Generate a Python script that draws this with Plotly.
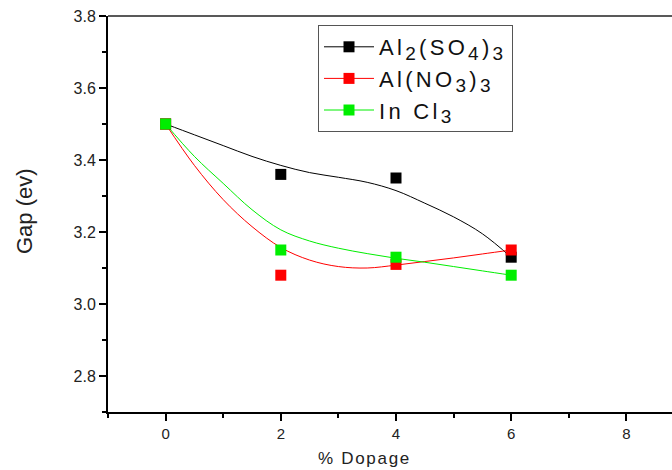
import plotly.graph_objects as go

# Measured data points
dopage = [0, 2, 4, 6]
gap_al2so4 = [3.50, 3.36, 3.35, 3.13]
gap_alno3 = [3.50, 3.08, 3.11, 3.15]
gap_incl3 = [3.50, 3.15, 3.13, 3.08]

# Smoothed fit curves
curve_x = [0, 0.5, 1, 1.5, 2, 2.5, 3, 3.5, 4, 4.5, 5, 5.5, 6]
curve_al2so4 = [3.50, 3.47, 3.44, 3.41, 3.385, 3.365, 3.352, 3.338, 3.315, 3.28, 3.242, 3.195, 3.13]
curve_alno3 = [3.50, 3.385, 3.29, 3.215, 3.157, 3.122, 3.104, 3.100, 3.108, 3.118, 3.128, 3.139, 3.15]
curve_incl3 = [3.50, 3.41, 3.335, 3.262, 3.206, 3.175, 3.155, 3.14, 3.127, 3.116, 3.104, 3.092, 3.08]

x_ticks = [0, 2, 4, 6, 8]
y_ticks = [2.8, 3.0, 3.2, 3.4, 3.6, 3.8]
y_ticktext = ["2.8", "3.0", "3.2", "3.4", "3.6", "3.8"]


def sub(s):
    return "<sub><span style='font-size:19px'>" + s + "</span></sub>"


def spaced(s):
    return "<span style='letter-spacing:3.3px'>" + s + "</span>"


names = [spaced("Al" + sub("2") + "(SO" + sub("4") + ")" + sub("3")),
         spaced("Al(NO" + sub("3") + ")" + sub("3")),
         spaced("In Cl" + sub("3"))]
colors = ["#000000", "#ff0000", "#00ee00"]

fig = go.Figure()
for cy, c in zip([curve_al2so4, curve_alno3, curve_incl3], colors):
    fig.add_trace(go.Scatter(x=curve_x, y=cy, mode="lines",
                             line=dict(color=c, width=1, shape="spline"),
                             showlegend=False, hoverinfo="skip"))
for py, c in zip([gap_al2so4, gap_alno3, gap_incl3], colors):
    fig.add_trace(go.Scatter(x=dopage, y=py, mode="markers",
                             marker=dict(symbol="square", size=11, color=c),
                             showlegend=False))
for n, c in zip(names, colors):
    fig.add_trace(go.Scatter(x=[None], y=[None], mode="lines+markers", name=n,
                             line=dict(color=c, width=1),
                             marker=dict(symbol="square", size=11, color=c)))

L, T, B = 108, 16, 58
PW = 672 - L
PH = 470 - T - B


def px_x(p):
    return (p - L) / PW


def px_y(p):
    return (470 - B - p) / PH


fig.update_layout(
    width=672, height=470,
    margin=dict(l=L, r=0, t=T, b=B),
    plot_bgcolor="white", paper_bgcolor="white",
    font=dict(family="Liberation Sans, Arial", color="#222"),
    legend=dict(x=px_x(318), y=px_y(25), xanchor="left", yanchor="top",
                bgcolor="white", bordercolor="#555", borderwidth=1,
                font=dict(size=22, color="#111"), itemwidth=50,
                tracegroupgap=0),
    xaxis=dict(range=[-1, -1 + PW / 57.6], showline=True, linecolor="black", linewidth=2,
               ticks="outside", ticklen=7, tickwidth=2, tickcolor="black",
               tickmode="array", tickvals=x_ticks,
               minor=dict(ticks="outside", ticklen=4, tickwidth=1.5,
                          tickcolor="black", tickvals=[-1, 1, 3, 5, 7]),
               showgrid=False, zeroline=False,
               tickfont=dict(size=15)),
    yaxis=dict(range=[2.7, 3.8], showline=True, linecolor="black", linewidth=2,
               ticks="outside", ticklen=7, tickwidth=2, tickcolor="black",
               tickmode="array", tickvals=y_ticks, ticktext=y_ticktext,
               minor=dict(ticks="outside", ticklen=4, tickwidth=1.5,
                          tickcolor="black", tickvals=[2.7, 2.9, 3.1, 3.3, 3.5, 3.7]),
               showgrid=False, zeroline=False,
               tickfont=dict(size=16)),
    shapes=[dict(type="line", xref="paper", yref="paper", x0=0, x1=1, y0=1, y1=1,
                 line=dict(color="#222", width=1.5))],
    annotations=[
        dict(text="<span style='letter-spacing:1.7px'>% Dopage</span>",
             xref="paper", yref="paper", x=px_x(364), y=px_y(458),
             xanchor="center", yanchor="middle", showarrow=False,
             font=dict(size=17, color="#222")),
        dict(text="Gap (ev)", xref="paper", yref="paper", x=px_x(24), y=px_y(211),
             xanchor="center", yanchor="middle", showarrow=False, textangle=-90,
             font=dict(size=22, color="#222")),
    ],
)

fig.write_html("out.html", config={"displayModeBar": False},
               post_script="document.body.style.margin='0';")
